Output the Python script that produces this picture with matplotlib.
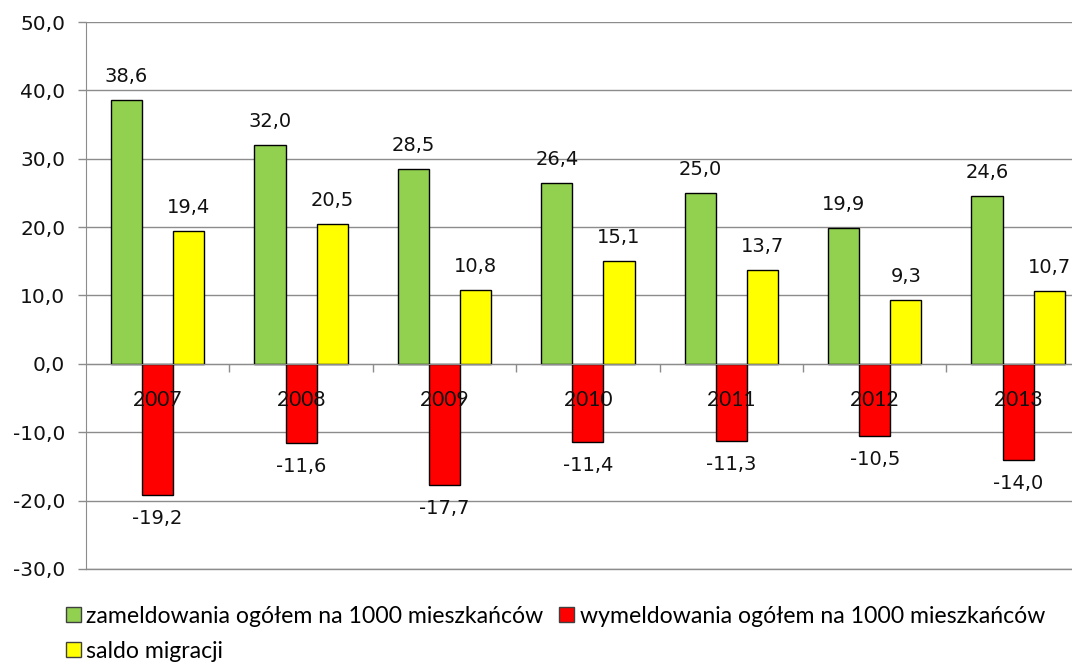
import numpy as np
import matplotlib.pyplot as plt
from matplotlib.patches import Patch
from matplotlib.ticker import FixedLocator, FuncFormatter

# Values
years = ['2007', '2008', '2009', '2010', '2011', '2012', '2013']
zameldowania = [38.6, 32.0, 28.5, 26.4, 25.0, 19.9, 24.6]
wymeldowania = [-19.2, -11.6, -17.7, -11.4, -11.3, -10.5, -14.0]
saldo = [19.4, 20.5, 10.8, 15.1, 13.7, 9.3, 10.7]

series_names = ['zameldowania ogółem na 1000 mieszkańców',
                'wymeldowania ogółem na 1000 mieszkańców',
                'saldo migracji']
colors = ['#92D050', '#FF0000', '#FFFF00']

fig = plt.figure(figsize=(10.72, 6.65), dpi=100)
ax = fig.add_axes([0.0802, 0.1444, 0.9364, 0.8225])

x = np.arange(len(years))
w = 0.217
grid_c = '#8c8c8c'
txt_c = '#111111'

for i, (vals, col) in enumerate(zip([zameldowania, wymeldowania, saldo], colors)):
    ax.bar(x + (i - 1) * w, vals, w, color=col, edgecolor='black', linewidth=1, zorder=3)
    for xi, v in zip(x + (i - 1) * w, vals):
        off = 17 if v >= 0 else -17
        ax.annotate(f'{v:.1f}'.replace('.', ','), (xi, v), xytext=(0, off),
                    textcoords='offset points', ha='center', va='center',
                    fontsize=14, color=txt_c, family='DejaVu Sans')

ax.set_xlim(-0.5, 6.5)
ax.set_ylim(-30, 50)
ax.set_yticks(np.arange(-30, 51, 10))
ax.yaxis.set_major_formatter(FuncFormatter(lambda v, p: f'{v:.1f}'.replace('.', ',')))
ax.grid(axis='y', color=grid_c, linewidth=1, zorder=0)
ax.axhline(-30, color=grid_c, linewidth=1, clip_on=False, zorder=0)
ax.set_axisbelow(True)

for s in ['top', 'right']:
    ax.spines[s].set_visible(False)
ax.spines['left'].set_color(grid_c)
ax.spines['bottom'].set_color(grid_c)
ax.spines['bottom'].set_position(('data', 0))
ax.spines['bottom'].set_zorder(4)

ax.tick_params(axis='y', length=6, width=1, color=grid_c, pad=9,
               labelsize=14.5, labelcolor=txt_c)
# category labels drawn over the red bars, like in the original
ax.set_xticks(x)
ax.set_xticklabels([])
ax.tick_params(axis='x', which='major', length=0)
ax.xaxis.set_minor_locator(FixedLocator(x[:-1] + 0.5))
ax.tick_params(axis='x', which='minor', length=6, width=1, color=grid_c)
for xi, lab in zip(x, years):
    ax.annotate(lab, (xi, 0), xytext=(0, -26), textcoords='offset points',
                ha='center', va='center', family='Lato', fontsize=15,
                color=txt_c, zorder=6)

handles = [Patch(facecolor=c, edgecolor='#404040', linewidth=1) for c in colors]
order = [0, 2, 1]
fig.legend([handles[k] for k in order], [series_names[k] for k in order],
           ncol=2, loc='upper left', bbox_to_anchor=(0.0616, 0.089),
           frameon=False, prop={'family': 'Lato', 'size': 16.6},
           handlelength=0.65, handleheight=0.65, handletextpad=0.22,
           columnspacing=0.7, labelspacing=0.6, borderaxespad=0, borderpad=0)

fig.savefig('out.png', dpi=100)
